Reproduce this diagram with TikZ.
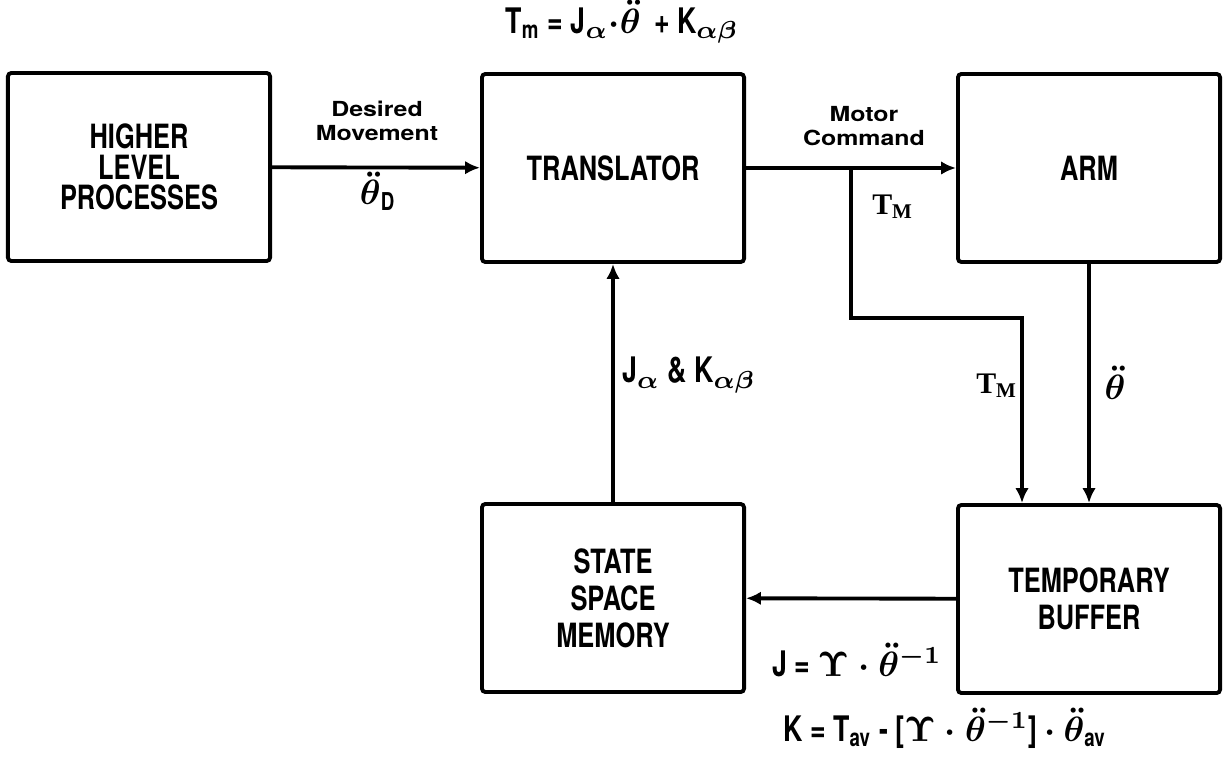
\documentclass[tikz,border=0pt]{standalone}
\usepackage{amsmath}
\usepackage{fontspec}
\usepackage{tikz}
\usetikzlibrary{arrows.meta,positioning,calc}
\newfontfamily\blockfont[FakeStretch=0.76]{TeX Gyre Heros}
\newfontfamily\lblfont[FakeStretch=1.2]{TeX Gyre Heros}
\newfontfamily\serfont{Liberation Serif}

\begin{document}
\begin{tikzpicture}[x=0.01cm, y=-0.01cm,
  block/.style={draw, line width=1.1pt, rounded corners=1pt, align=center, minimum width=2.62cm, minimum height=1.88cm, font=\blockfont\bfseries\fontsize{9.5}{10.5}\selectfont},
  lbl/.style={align=center, font=\lblfont\bfseries\fontsize{5.9}{7}\selectfont},
  eqn/.style={font=\blockfont\bfseries\boldmath\fontsize{10}{11}\selectfont},
  sig/.style={font=\serfont\bfseries\fontsize{8.5}{10}\selectfont},
  arr/.style={-{Latex[length=4.2pt,width=3.8pt]}, line width=1.1pt}
]
\useasboundingbox (0,0) rectangle (1225,758);
\node[block, font=\blockfont\bfseries\fontsize{9.5}{8.6}\selectfont] (hlp) at (139,167) {HIGHER\\LEVEL\\PROCESSES};
\node[block] (trans) at (613,168) {TRANSLATOR};
\node[block] (arm) at (1089,168) {ARM};
\node[block] (ssm) at (613,598) {STATE\\SPACE\\MEMORY};
\node[block] (buf) at (1089,599) {TEMPORARY\\BUFFER};
% tap on the motor command line feeding the buffer
\coordinate (tap) at ($(trans.east)!0.5!(arm.west)$);
\coordinate (bend) at (1022,318);
\draw[arr] (hlp) -- (trans); \draw[arr] (trans) -- (arm);
\draw[arr] (tap) |- (bend) -- (bend |- buf.north);
\draw[arr] (arm) -- (buf); \draw[arr] (buf) -- (ssm); \draw[arr] (ssm) -- (trans);
% signal labels
\node[eqn] (law) at (622,22) {T\textsubscript{m} = J\textsubscript{$\alpha$}$\cdot\ddot{\theta}$\, + K\textsubscript{$\alpha\beta$}};
\node[lbl] (desired) at (377,121) {Desired\\Movement};
\node[eqn] (thetaD) at (378,191) {$\ddot{\theta}$\textsubscript{D}};
\node[lbl] (motor) at (864,126) {Motor\\Command};
\node[sig] (tmA) at (893,207) {T\textsubscript{M}};
\node[eqn] (coef) at (689,375) {J\textsubscript{$\alpha$} \& K\textsubscript{$\alpha\beta$}};
\node[sig] (tmB) at (997,386) {T\textsubscript{M}};
\node[eqn] (thetaArm) at (1115,383) {$\ddot{\theta}$};
\node[eqn] (jeq) at (857,660) {J = $\Upsilon\cdot\ddot{\theta}^{-1}$};
\node[eqn] (keq) at (945,728) {K = T\textsubscript{av} - [$\Upsilon\cdot\ddot{\theta}^{-1}$] $\cdot$ $\ddot{\theta}$\textsubscript{av}};
\end{tikzpicture}
\end{document}
